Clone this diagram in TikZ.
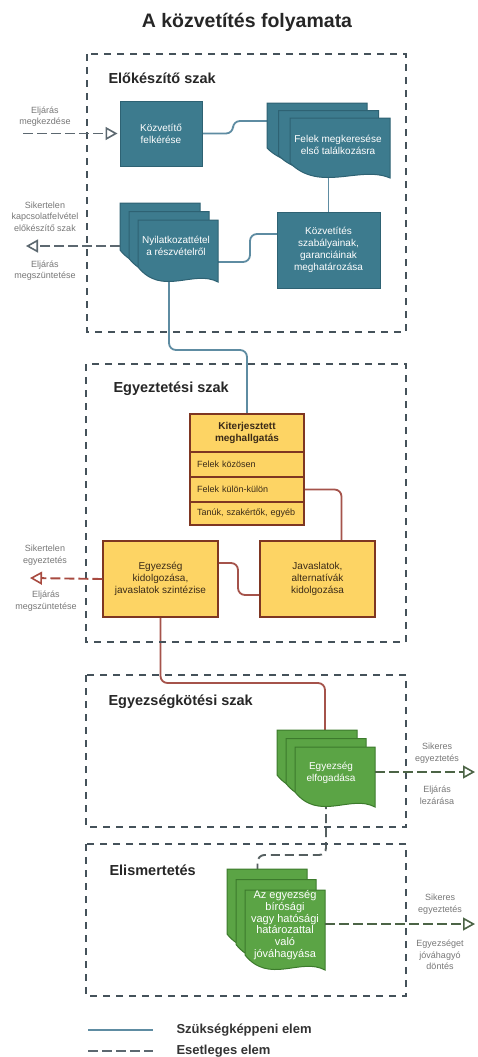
\documentclass[tikz,border=0pt]{standalone}
\usepackage{fontspec}
\setmainfont{Liberation Sans}
\usetikzlibrary{arrows.meta}
\pgfdeclarelayer{paper}
\pgfdeclarelayer{bg}
\pgfsetlayers{paper,bg,main}
\definecolor{teal1}{HTML}{3D7B8E}
\definecolor{teal2}{HTML}{2E6273}
\definecolor{blueline}{HTML}{5E8CA2}
\definecolor{secline}{HTML}{45525A}
\definecolor{yel}{HTML}{FDD464}
\definecolor{yelb}{HTML}{7E3622}
\definecolor{redline}{HTML}{A5534B}
\definecolor{grn}{HTML}{5BA445}
\definecolor{grnb}{HTML}{3C7A2C}
\definecolor{grnline}{HTML}{4C6446}
\definecolor{labgray}{HTML}{777777}
\definecolor{arrgray}{HTML}{5C6870}
\definecolor{arrred}{HTML}{A84A40}
\definecolor{txtdark}{HTML}{3A2A18}
\definecolor{optgray}{HTML}{555F60}
\newcommand\docsheet[6]{%
 \draw[fill=#5,draw=#6,line width=1pt] (#1,#2) -- ({#1+#3},#2) -- ({#1+#3},{#2+#4+15})
   .. controls ({#1+0.7*#3},{#2+#4+2}) and ({#1+0.3*#3},{#2+#4+30}) .. (#1,{#2+#4}) -- cycle;}
\newcommand\docstack[8]{%
 \docsheet{#1}{#2}{#3}{#4}{#7}{#8}%
 \docsheet{#1+#5}{#2+#6}{#3}{#4}{#7}{#8}%
 \docsheet{#1+2*#5}{#2+2*#6}{#3}{#4}{#7}{#8}}
\tikzset{
 sec/.style={draw=secline, line width=1.8pt, dash pattern=on 7pt off 6pt},
 tealbox/.style={draw=teal2, fill=teal1, line width=1pt, text=white, font=\fontsize{10}{12}\selectfont, align=center, inner sep=0pt},
 yelbox/.style={draw=yelb, fill=yel, line width=1.3pt, text=txtdark, font=\fontsize{10}{12}\selectfont, align=center, inner sep=0pt},
 rowbox/.style={draw=yelb, fill=yel, line width=1.3pt, text=txtdark, font=\fontsize{9}{11}\selectfont, minimum width=114pt, text width=100pt, inner xsep=7pt, inner ysep=0pt, align=left},
 doctext/.style={text=white, font=\fontsize{10}{12}\selectfont, align=center},
 conn/.style={line width=1.8pt, rounded corners=7pt},
 optarrow/.style={line width=1.9pt, dash pattern=on 10pt off 4pt, -{Triangle[open,length=12pt,width=13pt,line width=1.6pt]}},
 sidelab/.style={text=labgray, font=\fontsize{9}{11.5}\selectfont, align=center},
 sectitle/.style={anchor=west, font=\bfseries\fontsize{14.5}{17}\selectfont, text=black!85},
 legtext/.style={anchor=west, font=\bfseries\fontsize{13}{15}\selectfont, text=black!80}
}
\begin{document}
\begin{tikzpicture}[x=1pt,y=-1pt]
\begin{pgfonlayer}{paper}
\fill[white] (0,0) rectangle (477,1057);
\end{pgfonlayer}
\useasboundingbox (0,0) rectangle (477,1057);
% title
\node[font=\bfseries\fontsize{19.5}{22}\selectfont, text=black!85] (title) at (247,22) {A közvetítés folyamata};
% sections
\draw[sec] (87,54) rectangle (406,332);
\draw[sec] (86,364) rectangle (406,642);
\draw[sec] (86,675) rectangle (406,827);
\draw[sec] (86,844) rectangle (406,996);
\node[sectitle] (s1) at (105,78) {Előkészítő szak};
\node[sectitle] (s2) at (110,389) {Egyeztetési szak};
\node[sectitle] (s3) at (105,702) {Egyezségkötési szak};
\node[sectitle] (s4) at (106,870) {Elismertetés};
% section 1
\node[tealbox, minimum width=82pt, minimum height=65pt] (kozv) at (161,133.5) {Közvetítő\\felkérése};
\docstack{267}{103}{100}{45}{11.5}{7.5}{teal1}{teal2}
\node[doctext] (felek) at (338,145) {Felek megkeresése\\első találkozásra};
\node[tealbox, minimum width=103pt, minimum height=76pt] (szab) at (328.5,250) {Közvetítés\\szabályainak,\\garanciáinak\\meghatározása};
\docstack{120}{203}{80}{47}{9}{8.5}{teal1}{teal2}
\node[doctext] (nyil) at (176,246) {Nyilatkozattétel\\a részvételről};
\coordinate (felekback) at (267,121);
\coordinate (felekbot) at (328.5,176);
\coordinate (szabl) at (277,234);
\coordinate (nyilright) at (218,262);
\coordinate (nyilback) at (120,246);
\coordinate (nyilbot) at (169,275);
% section 2
\node[yelbox, font=\bfseries\fontsize{10}{12}\selectfont, minimum width=114pt, minimum height=38pt] (kit) at (247,433) {Kiterjesztett\\meghallgatás};
\node[rowbox, minimum height=25pt] (row1) at (247,464.5) {Felek közösen};
\node[rowbox, minimum height=25pt] (row2) at (247,489.5) {Felek külön-külön};
\node[rowbox, minimum height=23pt] (row3) at (247,513.5) {Tanúk, szakértők, egyéb};
\node[yelbox, minimum width=115pt, minimum height=76pt] (egy) at (160.5,579) {Egyezség\\kidolgozása,\\javaslatok szintézise};
\node[yelbox, minimum width=115pt, minimum height=76pt] (jav) at (317.5,579) {Javaslatok,\\alternatívák\\kidolgozása};
\coordinate (javin) at (341.5,541);
\coordinate (egyr) at (218,563);
\coordinate (javl) at (260,595);
% section 3
\docstack{277}{730}{80}{45}{9}{8.5}{grn}{grnb}
\node[doctext] (elf) at (331,773) {Egyezség\\elfogadása};
\coordinate (elfback) at (325,730);
\coordinate (elfbot) at (326,800);
\coordinate (elfright) at (375,772);
% section 4
\docstack{227}{869}{80}{65}{9}{10.5}{grn}{grnb}
\node[doctext, font=\fontsize{11}{11.8}\selectfont] (az) at (285,925) {Az egyezség\\bírósági\\vagy hatósági\\határozattal\\való\\jóváhagyása};
\coordinate (azback) at (257.5,869);
\coordinate (azright) at (325,924);
% side labels
\node[sidelab] (l1) at (45,116.5) {Eljárás\\megkezdése};
\node[sidelab] (l2) at (45,216.5) {Sikertelen\\kapcsolatfelvétel\\előkészítő szak};
\node[sidelab] (l3) at (45,270.5) {Eljárás\\megszüntetése};
\node[sidelab] (l4) at (45,555) {Sikertelen\\egyeztetés};
\node[sidelab] (l5) at (46,601) {Eljárás\\megszüntetése};
\node[sidelab] (l6) at (437,753) {Sikeres\\egyeztetés};
\node[sidelab] (l7) at (437,795) {Eljárás\\lezárása};
\node[sidelab] (l8) at (440,904) {Sikeres\\egyeztetés};
\node[sidelab] (l9) at (440,955) {Egyezséget\\jóváhagyó\\döntés};
\coordinate (a1s) at (23,133.5);
\coordinate (a2e) at (26,246);
\coordinate (a3e) at (30,578);
\coordinate (a4e) at (475,772);
\coordinate (a5e) at (475,924);
% legend
\coordinate (lg1a) at (88,1030);
\coordinate (lg1b) at (153,1030);
\coordinate (lg2a) at (88,1051);
\coordinate (lg2b) at (153,1051);
\node[legtext] (leg1) at (173,1030) {Szükségképpeni elem};
\node[legtext] (leg2) at (173,1051) {Esetleges elem};
\begin{pgfonlayer}{bg}
\draw[conn, blueline] (kozv.east) -- (233,133.5) |- (felekback);
\draw[conn, blueline] (felekbot) -- (szab.north);
\draw[conn, blueline] (szabl) -- (250,234) |- (nyilright);
\draw[conn, blueline] (nyilbot) -- (169,350) -| (kit.north);
\draw[conn, redline] (row2.east) -| (javin);
\draw[conn, redline] (egyr) -- (238,563) |- (javl);
\draw[conn, redline] (egy.south) -- (160.5,683) -| (elfback);
\draw[conn, optgray, line width=1.9pt, dash pattern=on 9pt off 5pt] (elfbot) -- (326,855) -| (azback);
\end{pgfonlayer}
\draw[optarrow, arrgray, shorten >=2pt] (a1s) -- (kozv.west);
\draw[optarrow, arrgray] (nyilback) -- (a2e);
\draw[optarrow, arrred] (egy.west) -- (a3e);
\draw[optarrow, grnline] (elfright) -- (a4e);
\draw[optarrow, grnline] (azright) -- (a5e);
\draw[blueline, line width=1.8pt] (lg1a) -- (lg1b);
\draw[arrgray, line width=1.9pt, dash pattern=on 10pt off 4pt] (lg2a) -- (lg2b);
\end{tikzpicture}
\end{document}
